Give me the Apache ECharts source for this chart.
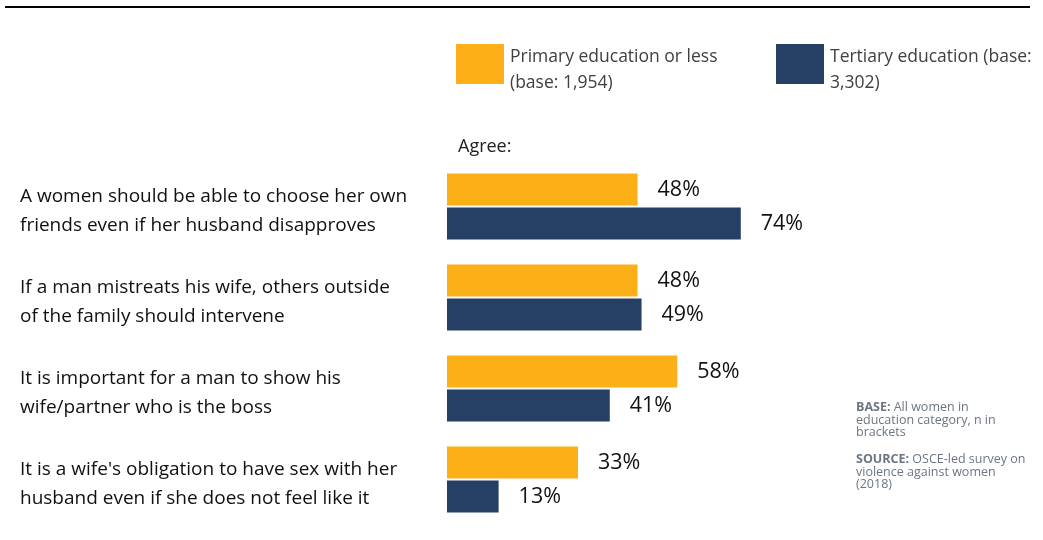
<!DOCTYPE html>
<html>
<head>
<meta charset="utf-8">
<script src="https://cdn.jsdelivr.net/npm/echarts@6/dist/echarts.min.js"></script>
<style>
  html, body { margin: 0; padding: 0; background: #ffffff; }
  #chart { width: 1043px; height: 540px; }
</style>
</head>
<body>
<div id="chart"></div>
<script>
const categories = [
  "A women should be able to choose her own\nfriends even if her husband disapproves",
  "If a man mistreats his wife, others outside\nof the family should intervene",
  "It is important for a man to show his\nwife/partner who is the boss",
  "It is a wife's obligation to have sex with her\nhusband even if she does not feel like it"
];
const primaryName = "Primary education or less\n(base: 1,954)";
const tertiaryName = "Tertiary education (base:\n3,302)";
const primaryValues = [48, 48, 58, 33];
const tertiaryValues = [74, 49, 41, 13];

const FONT = "Open Sans";
const chart = echarts.init(document.getElementById('chart'), null, { renderer: 'canvas' });

const labelCfg = {
  show: true,
  position: 'right',
  distance: 20,
  formatter: '{c}%',
  color: '#111111',
  fontFamily: FONT,
  fontSize: 21.5
};

const legendText = {
  fontFamily: FONT, fontSize: 17.5, color: '#404040', lineHeight: 26, padding: [0, 0, 0, 1],
  rich: { s: { fontSize: 4, lineHeight: 13 } }
};
const legendFormatter = function (name) { return '{s| }\n' + name; };

chart.setOption({
  animation: false,
  backgroundColor: '#ffffff',
  grid: { left: 447, right: 199, top: 161, bottom: 15, containLabel: false },
  legend: [
    {
      data: [primaryName],
      left: 451, top: 26.5,
      itemWidth: 48, itemHeight: 40, itemGap: 10,
      icon: 'rect',
      formatter: legendFormatter,
      textStyle: legendText
    },
    {
      data: [tertiaryName],
      left: 771, top: 26.5,
      itemWidth: 48, itemHeight: 40, itemGap: 10,
      icon: 'rect',
      formatter: legendFormatter,
      textStyle: legendText
    }
  ],
  xAxis: {
    type: 'value', min: 0, max: 100,
    show: false,
    splitLine: { show: false }
  },
  yAxis: {
    type: 'category',
    data: categories,
    inverse: true,
    axisLine: { show: false },
    axisTick: { show: false },
    axisLabel: {
      margin: 427,
      align: 'left',
      fontFamily: FONT,
      fontSize: 19,
      lineHeight: 28.5,
      color: '#111111',
      formatter: function (v) { return '{s| }\n' + v; },
      rich: { s: { fontSize: 4, lineHeight: 9 } }
    }
  },
  series: [
    {
      name: primaryName,
      type: 'bar',
      data: primaryValues,
      barWidth: 32,
      barGap: '6%',
      itemStyle: { color: '#FCAF17' },
      label: labelCfg
    },
    {
      name: tertiaryName,
      type: 'bar',
      data: tertiaryValues,
      barWidth: 32,
      barGap: '6%',
      itemStyle: { color: '#253F65' },
      label: labelCfg
    }
  ],
  graphic: [
    {
      type: 'line',
      shape: { x1: 5, y1: 7, x2: 1030, y2: 7 },
      style: { stroke: '#000000', lineWidth: 2 }
    },
    {
      type: 'text',
      left: 458, top: 138,
      style: { text: 'Agree:', fontFamily: FONT, fontSize: 18, fill: '#222222' }
    },
    {
      type: 'text',
      left: 856, top: 401,
      style: {
        text: '{b|BASE:} All women in\neducation category, n in\nbrackets',
        fontFamily: FONT, fontSize: 12.5, lineHeight: 12.5, fill: '#6b7682',
        rich: { b: { fontWeight: 'bold', fontFamily: FONT, fontSize: 12.5, lineHeight: 12.5, fill: '#6b7682' } }
      }
    },
    {
      type: 'text',
      left: 856, top: 453,
      style: {
        text: '{b|SOURCE:} OSCE-led survey on\nviolence against women\n(2018)',
        fontFamily: FONT, fontSize: 12.5, lineHeight: 12.5, fill: '#6b7682',
        rich: { b: { fontWeight: 'bold', fontFamily: FONT, fontSize: 12.5, lineHeight: 12.5, fill: '#6b7682' } }
      }
    }
  ]
});
</script>
</body>
</html>
